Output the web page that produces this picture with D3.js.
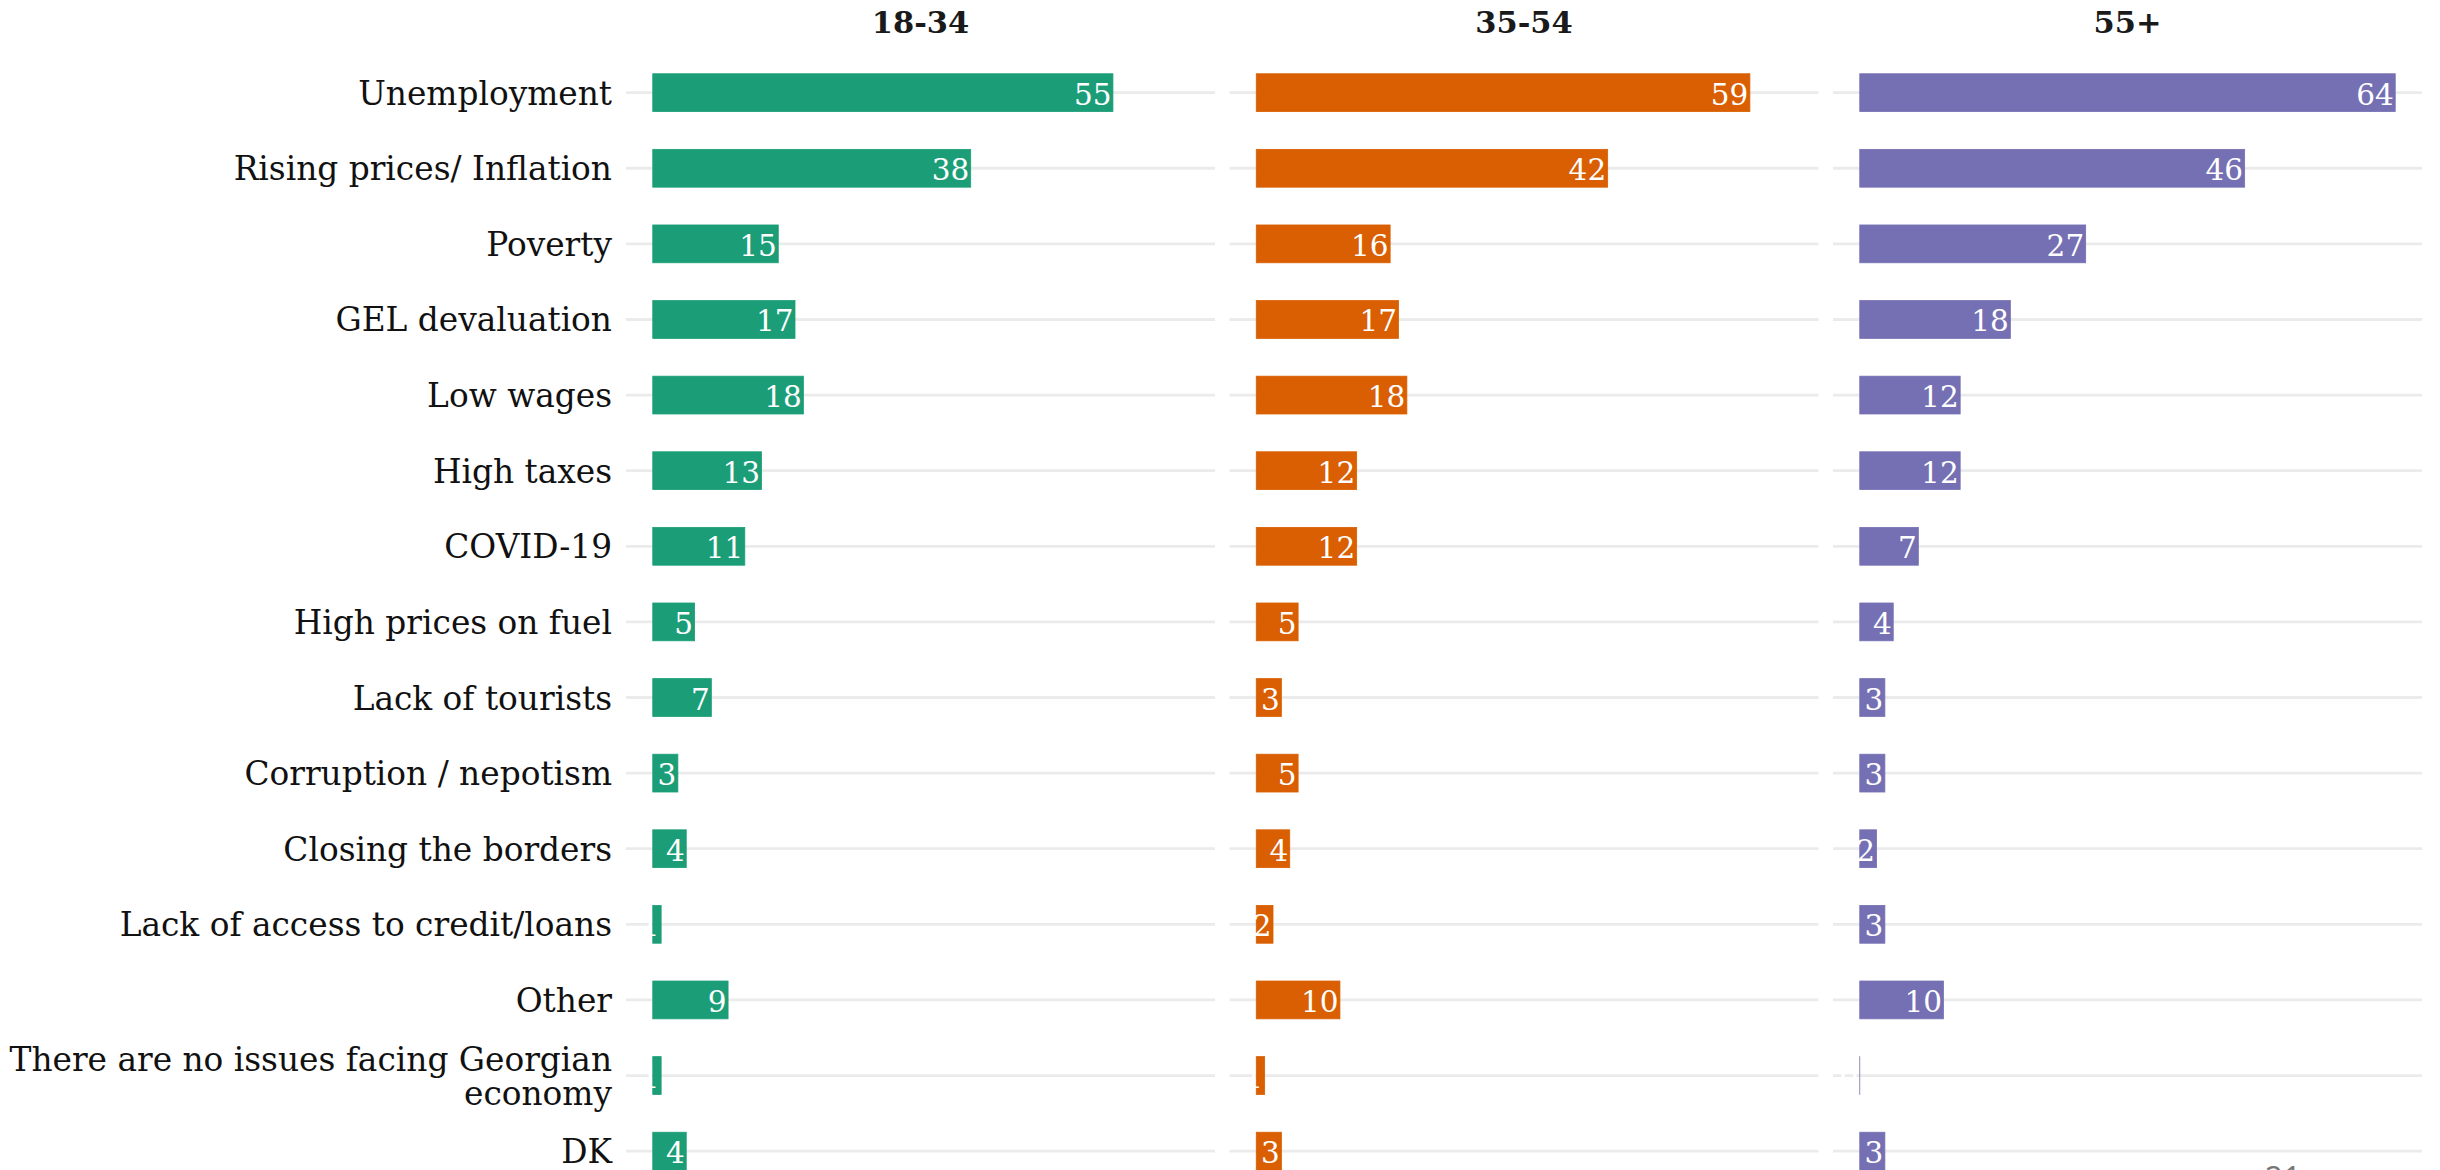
<!DOCTYPE html>
<html>
<head>
<meta charset="utf-8">
<script src="https://cdn.jsdelivr.net/npm/d3@7"></script>
<style>
  html, body { margin: 0; padding: 0; background: #ffffff; }
  svg { display: block; }
</style>
</head>
<body>
<script>
// ---------- DATA ----------
const categories = [
  "Unemployment",
  "Rising prices/ Inflation",
  "Poverty",
  "GEL devaluation",
  "Low wages",
  "High taxes",
  "COVID-19",
  "High prices on fuel",
  "Lack of tourists",
  "Corruption / nepotism",
  "Closing the borders",
  "Lack of access to credit/loans",
  "Other",
  "There are no issues facing Georgian\neconomy",
  "DK"
];
const groups = ["18-34", "35-54", "55+"];
const values1834 = [55, 38, 15, 17, 18, 13, 11, 5, 7, 3, 4, 1, 9, 1, 4];
const values3554 = [59, 42, 16, 17, 18, 12, 12, 5, 3, 5, 4, 2, 10, 1, 3];
const values55p  = [64, 46, 27, 18, 12, 12, 7, 4, 3, 3, 2, 3, 10, 0, 3];
const seriesValues = [values1834, values3554, values55p];
const colors = ["#1b9e77", "#d95f02", "#7570b3"];
const pageNumber = "21";

// ---------- LAYOUT ----------
const W = 2440, H = 1170;
const panelLeft0 = 626, panelW = 589, panelGap = 14.5;
const yTop = 47.3, yBottom = 1196.5;

const svg = d3.select("body").append("svg")
  .attr("width", W).attr("height", H)
  .style("font-family", "'DejaVu Serif', serif");

const maxV = d3.max(seriesValues.flat());
const x = d3.scaleLinear()
  .domain([-0.05 * maxV, maxV * 1.05])
  .range([0, panelW]);

const y = d3.scalePoint()
  .domain(categories)
  .range([yTop, yBottom])
  .padding(0.6);
const barH = y.step() * 0.5;

// Category labels (y axis, left of first panel)
const yAxis = svg.append("g").attr("class", "y-axis");
categories.forEach(c => {
  const lines = c.split("\n");
  const cy = y(c);
  const lh = 34;
  const t = yAxis.append("text")
    .attr("text-anchor", "end")
    .attr("font-size", 32.8)
    .attr("fill", "#111111");
  lines.forEach((ln, i) => {
    const base = cy + 12 - (lines.length - 1) * lh / 2 + i * lh;
    t.append("tspan").attr("x", panelLeft0 - 14).attr("y", base).text(ln);
  });
});

// Panels
groups.forEach((g, gi) => {
  const px = panelLeft0 + gi * (panelW + panelGap);
  const panel = svg.append("g").attr("transform", `translate(${px},0)`);

  // strip title
  panel.append("text")
    .attr("x", panelW / 2).attr("y", 33)
    .attr("text-anchor", "middle")
    .attr("font-size", 30.5)
    .attr("font-weight", "bold")
    .attr("fill", "#1a1a1a")
    .text(g);

  // gridlines
  panel.selectAll("line.grid")
    .data(categories)
    .join("line")
    .attr("class", "grid")
    .attr("x1", 0).attr("x2", panelW)
    .attr("y1", d => y(d)).attr("y2", d => y(d))
    .attr("stroke", "#ebebeb")
    .attr("stroke-width", 2.8);

  const data = categories.map((c, i) => ({ c, v: seriesValues[gi][i] }));

  // bars
  panel.selectAll("rect.bar")
    .data(data)
    .join("rect")
    .attr("class", "bar")
    .attr("x", x(0))
    .attr("y", d => y(d.c) - barH / 2)
    .attr("width", d => Math.max(x(d.v) - x(0), 0.01))
    .attr("height", barH)
    .attr("fill", colors[gi])
    .attr("stroke", colors[gi])
    .attr("stroke-width", 0.8);

  // value labels
  panel.selectAll("text.val")
    .data(data)
    .join("text")
    .attr("class", "val")
    .attr("x", d => x(d.v) - 1.5)
    .attr("y", d => y(d.c) + 12)
    .attr("text-anchor", "end")
    .attr("font-size", 29.5)
    .attr("fill", "#ffffff")
    .text(d => d.v);
});

// page number (partially cut at bottom, as in the reference)
svg.append("text")
  .attr("x", 2283).attr("y", 1190)
  .attr("text-anchor", "middle")
  .attr("font-family", "'Open Sans', sans-serif")
  .attr("font-size", 32)
  .attr("fill", "#777777")
  .text(pageNumber);
</script>
</body>
</html>
